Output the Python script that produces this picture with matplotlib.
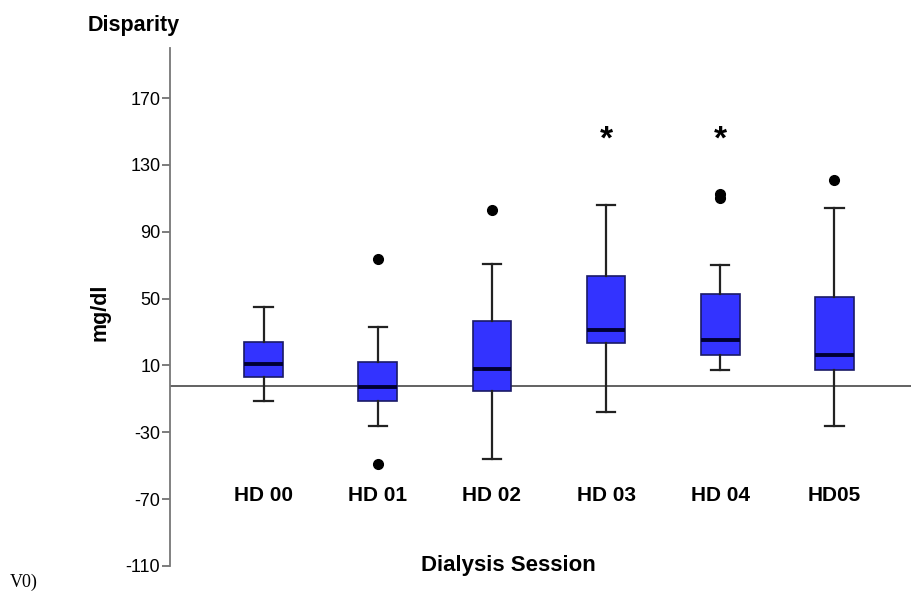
import matplotlib
matplotlib.use('Agg')
from matplotlib import pyplot as plt

sessions = ['HD 00', 'HD 01', 'HD 02', 'HD 03', 'HD 04', 'HD05']
whislo = [-11, -26, -46, -18, 7, -26]
q1 = [3, -11, -5.5, 23.5, 16, 7.5]
med = [11, -3, 8, 31.5, 25, 16]
q3 = [24, 12, 36.5, 63.5, 53, 51]
whishi = [45, 33, 71, 106, 70, 104]
fliers = [[], [74, -49], [103], [], [112.5, 110.5], [121]]
starred = [3, 4]
star_y = 145
ref_y = -2.5
ylim = (-110, 200)
yticks = [-110, -70, -30, 10, 50, 90, 130, 170]

plt.rcParams['font.family'] = ['Liberation Sans', 'DejaVu Sans']

fig = plt.figure(figsize=(9.12, 6.0), dpi=100)
ax = fig.add_axes([0.1864, 0.0567, 0.8136, 0.8633])

# stats for bxp, one dict per session
stats = []
for i in range(len(sessions)):
    stats.append({'whislo': whislo[i], 'q1': q1[i], 'med': med[i], 'q3': q3[i],
                  'whishi': whishi[i], 'fliers': fliers[i], 'label': sessions[i]})

ax.axhline(ref_y, color='#555555', lw=1.3, zorder=1)

ax.bxp(stats, positions=range(len(sessions)), widths=0.34, patch_artist=True,
       boxprops=dict(facecolor='#3333ff', edgecolor='#1a1a66', lw=1.2),
       medianprops=dict(color='#000033', lw=2.8),
       whiskerprops=dict(color='#222222', lw=1.6),
       capprops=dict(color='#222222', lw=1.6),
       capwidths=0.16,
       flierprops=dict(marker='o', markerfacecolor='black', markeredgecolor='black', markersize=7),
       zorder=3)

for s in starred:
    ax.text(s, star_y, '*', ha='center', va='center', fontsize=24, fontweight='bold')

for i, lab in enumerate(sessions):
    ax.text(i, -68, lab, ha='center', va='center', fontsize=15, fontweight='bold')

ax.set_xlim(-0.82, 5.68)
ax.set_ylim(*ylim)
ax.set_yticks(yticks)
ax.set_yticklabels([str(t) for t in yticks], fontsize=13)
ax.set_xticks([])
ax.tick_params(axis='y', direction='out', length=6, width=1.2, color='#666666', pad=1)
for sp in ['top', 'right', 'bottom']:
    ax.spines[sp].set_visible(False)
ax.spines['left'].set_color('#777777')
ax.spines['left'].set_linewidth(1.3)

fig.text(134 / 912, 1 - 25 / 600, 'Disparity', ha='center', va='center', fontsize=15.5, fontweight='bold')
fig.text(100 / 912, 1 - 312 / 600, 'mg/dl', ha='center', va='center', rotation=90, fontsize=15.5, fontweight='bold')
fig.text(508 / 912, 1 - 566 / 600, 'Dialysis Session', ha='center', va='center', fontsize=16, fontweight='bold')
fig.text(10 / 912, 1 - 582 / 600, 'V0)', ha='left', va='center', fontsize=13, family='Liberation Serif')

fig.savefig('out.png', dpi=100)
